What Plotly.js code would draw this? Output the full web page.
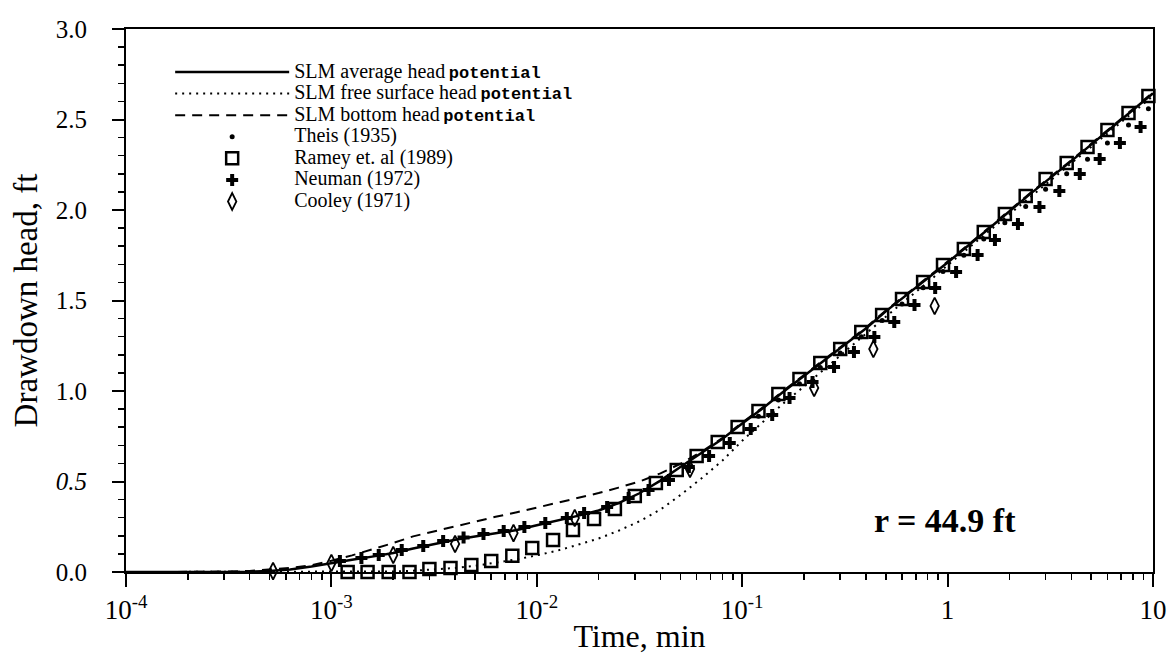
<!DOCTYPE html>
<html>
<head>
<meta charset="utf-8">
<script src="https://cdn.plot.ly/plotly-3.0.1.min.js"></script>
<style>html,body{margin:0;padding:0;background:#fff;}#chart{width:1174px;height:666px;}</style>
</head>
<body>
<div id="chart"></div>
<script>
// ---- data ----
const curveTime = [0.0001,0.00025,0.0004,0.0005,0.00063,0.0008,0.001,0.00126,0.00158,0.002,0.0025,0.00316,0.004,0.005,0.0063,0.008,0.01,0.0126,0.0158,0.02,0.025,0.0316,0.04,0.05,0.063,0.08,0.1,0.126,0.158,0.2,0.25,0.316,0.4,0.5,0.63,0.8,1,1.58,2.5,4,6.3,10];
const slmAverage = [0,0,0.002,0.006,0.014,0.03,0.05,0.068,0.085,0.105,0.13,0.155,0.178,0.196,0.213,0.232,0.258,0.283,0.31,0.34,0.38,0.435,0.505,0.58,0.655,0.735,0.82,0.905,0.995,1.085,1.17,1.255,1.345,1.44,1.53,1.62,1.71,1.895,2.085,2.27,2.455,2.645];
const slmFreeSurface = [0,0,0,0,0,0,0,0,0.001,0.003,0.007,0.013,0.022,0.034,0.05,0.07,0.092,0.118,0.15,0.185,0.228,0.28,0.345,0.425,0.515,0.615,0.725,0.83,0.93,1.025,1.12,1.215,1.315,1.41,1.505,1.6,1.695,1.88,2.07,2.255,2.44,2.63];
const slmBottom = [0,0.001,0.006,0.012,0.022,0.038,0.062,0.092,0.125,0.16,0.197,0.225,0.25,0.278,0.305,0.33,0.356,0.382,0.408,0.436,0.466,0.5,0.545,0.598,0.662,0.74,0.825,0.91,1.0,1.09,1.175,1.26,1.35,1.445,1.535,1.625,1.715,1.9,2.09,2.275,2.46,2.65];

const theisTime = [0.12,0.15,0.19,0.24,0.30,0.38,0.48,0.60,0.76,0.95,1.2,1.5,1.9,2.4,3.0,3.8,4.8,6.0,7.6,9.5];
const theisHead = [0.86,0.95,1.04,1.13,1.21,1.30,1.39,1.48,1.57,1.66,1.75,1.84,1.93,2.02,2.115,2.20,2.28,2.37,2.47,2.56];

const rameyTime = [0.0012,0.0015,0.0019,0.0024,0.0030,0.0038,0.0048,0.0060,0.0076,0.0095,0.012,0.015,0.019,0.024,0.030,0.038,0.048,0.060,0.076,0.095,0.12,0.15,0.19,0.24,0.30,0.38,0.48,0.60,0.76,0.95,1.2,1.5,1.9,2.4,3.0,3.8,4.8,6.0,7.6,9.5];
const rameyHead = [0.0,0.0,0.0,0.0,0.017,0.022,0.039,0.061,0.09,0.133,0.177,0.232,0.293,0.348,0.420,0.492,0.564,0.641,0.718,0.801,0.890,0.983,1.066,1.155,1.232,1.326,1.420,1.508,1.602,1.696,1.785,1.878,1.978,2.077,2.171,2.260,2.348,2.442,2.536,2.630];

const neumanTime = [0.0011,0.0014,0.0017,0.0022,0.0028,0.0035,0.0044,0.0055,0.0069,0.0087,0.011,0.014,0.017,0.022,0.028,0.035,0.044,0.055,0.069,0.087,0.11,0.14,0.17,0.22,0.28,0.35,0.44,0.55,0.69,0.87,1.1,1.4,1.7,2.2,2.8,3.5,4.4,5.5,6.9,8.7];
const neumanHead = [0.061,0.077,0.094,0.122,0.144,0.171,0.19,0.21,0.227,0.249,0.271,0.298,0.326,0.359,0.409,0.453,0.508,0.580,0.641,0.713,0.790,0.867,0.961,1.050,1.133,1.215,1.298,1.381,1.475,1.569,1.657,1.751,1.834,1.923,2.017,2.105,2.199,2.282,2.370,2.459];

const cooleyTime = [0.00052,0.001,0.002,0.004,0.0077,0.0153,0.0557,0.224,0.435,0.865];
const cooleyHead = [0.005,0.05,0.094,0.155,0.215,0.298,0.569,1.017,1.232,1.470];

// tick labels
const xTickVals = [0.0001,0.001,0.01,0.1,1,10];
const xTickText = ['10<sup>-4</sup>','10<sup>-3</sup>','10<sup>-2</sup>','10<sup>-1</sup>','1','10'];
const xMinorVals = [0.0002,0.0003,0.0004,0.0005,0.0006,0.0007,0.0008,0.0009,
                    0.002,0.003,0.004,0.005,0.006,0.007,0.008,0.009,
                    0.02,0.03,0.04,0.05,0.06,0.07,0.08,0.09,
                    0.2,0.3,0.4,0.5,0.6,0.7,0.8,0.9,
                    2,3,4,5,6,7,8,9];
const yTickVals = [0,0.5,1,1.5,2,2.5,3];
const yTickText = ['0.0','<i>0.5</i>','1.0','1.5','2.0','2.5','3.0'];

const serif = 'Liberation Serif, Times New Roman, serif';
const big = s => '<span style="font-size:20px">' + s + '</span>';
const pot = ' <span style="font-family:\'Liberation Mono\';font-weight:bold;font-size:17px">potential</span>';

const traces = [
  {x: curveTime, y: slmAverage, mode: 'lines', name: big('SLM average head') + pot, legendrank: 1,
   line: {color: '#000', width: 2.5}},
  {x: curveTime, y: slmFreeSurface, mode: 'lines', name: big('SLM free surface head') + pot, legendrank: 2,
   line: {color: '#000', width: 2, dash: '2px,5px'}},
  {x: curveTime, y: slmBottom, mode: 'lines', name: big('SLM bottom head') + pot, legendrank: 3,
   line: {color: '#000', width: 2, dash: '10px,7px'}},
  {x: rameyTime, y: rameyHead, mode: 'markers', name: big('Ramey et. al (1989)'), legendrank: 5, cliponaxis: false,
   marker: {symbol: 'square-open', size: 12, color: '#000', line: {width: 2.5, color: '#000'}}},
  {x: theisTime, y: theisHead, mode: 'markers', name: big('Theis (1935)'), legendrank: 4, cliponaxis: false,
   marker: {symbol: 'circle', size: 5, color: '#000'}},
  {x: neumanTime, y: neumanHead, mode: 'markers', name: big('Neuman (1972)'), legendrank: 6, cliponaxis: false,
   marker: {symbol: 'cross', size: 10, color: '#000', line: {width: 0}}},
  {x: cooleyTime, y: cooleyHead, mode: 'markers', name: big('Cooley (1971)'), legendrank: 7, cliponaxis: false,
   marker: {symbol: 'diamond-tall-open', size: 12, color: '#000', line: {width: 1.8, color: '#000'}}},
  {x: [], y: [], xaxis: 'x2', mode: 'markers', showlegend: false, hoverinfo: 'skip'}
];

const layout = {
  width: 1174, height: 666,
  margin: {l: 126, r: 21, t: 29, b: 94},
  paper_bgcolor: '#fff', plot_bgcolor: '#fff',
  font: {family: serif, color: '#000', size: 20},
  showlegend: true,
  legend: {x: 0.043, y: 0.95, xanchor: 'left', yanchor: 'top', bgcolor: 'rgba(0,0,0,0)',
           font: {family: serif, size: 14.3, color: '#000'}, itemwidth: 114, tracegroupgap: 0},
  xaxis: {type: 'log', range: [-4, 1], tickvals: xTickVals, ticktext: xTickText,
          ticks: 'outside', ticklen: 13, tickwidth: 2, tickcolor: '#000',
          showline: true, linewidth: 2, linecolor: '#000', mirror: true,
          showgrid: false, zeroline: false, tickfont: {family: serif, size: 27},
          title: {text: 'Time, min', font: {family: serif, size: 32}, standoff: 0}},
  xaxis2: {type: 'log', range: [-4, 1], overlaying: 'x', anchor: 'y', side: 'bottom',
           tickvals: xMinorVals, ticks: 'outside', ticklen: 7, tickwidth: 1.5, tickcolor: '#000',
           showticklabels: false, showgrid: false, showline: false, zeroline: false},
  yaxis: {range: [0, 3], tickvals: yTickVals, ticktext: yTickText,
          ticks: 'outside', ticklen: 12, tickwidth: 2, tickcolor: '#000',
          minor: {dtick: 0.1, ticks: 'outside', ticklen: 6, tickwidth: 1.5, tickcolor: '#000', showgrid: false},
          showline: true, linewidth: 2, linecolor: '#000', mirror: true,
          showgrid: false, zeroline: false, tickfont: {family: serif, size: 25},
          ticklabelstandoff: 20,
          title: {text: 'Drawdown head, ft', font: {family: serif, size: 33}, standoff: 8}},
  annotations: [
    {xref: 'paper', yref: 'paper', x: 0.797, y: 0.094, xanchor: 'center', yanchor: 'middle',
     text: '<b>r = 44.9 ft</b>', showarrow: false, font: {family: serif, size: 34, color: '#000'}}
  ]
};

Plotly.newPlot('chart', traces, layout, {displayModeBar: false, staticPlot: true});
</script>
</body>
</html>
